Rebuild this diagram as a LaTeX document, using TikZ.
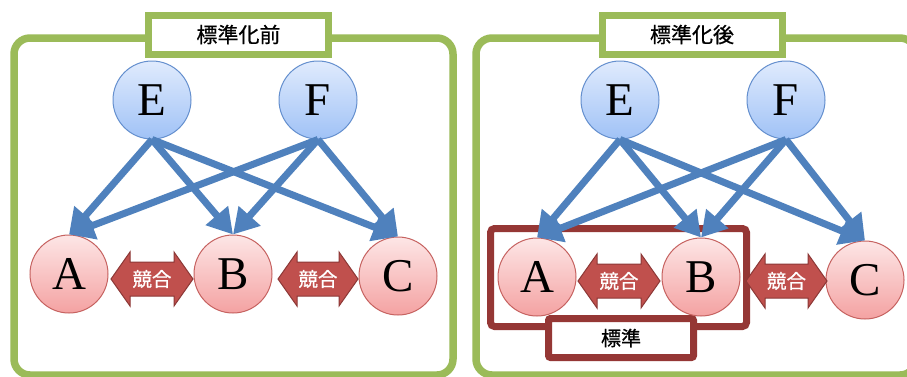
\documentclass[tikz,border=0pt]{standalone}
\usepackage{fontspec}
\setmainfont{Liberation Serif}
\newfontfamily\cjk{Noto Sans CJK JP}
\newfontfamily\cjkm[FakeBold=0.7]{Noto Sans CJK JP}
\usetikzlibrary{arrows.meta,calc}
\definecolor{grn}{RGB}{155,187,89}
\definecolor{arrblue}{RGB}{79,129,189}
\definecolor{kred}{RGB}{192,80,77}
\definecolor{kredd}{RGB}{140,56,54}
\definecolor{stdred}{RGB}{149,55,53}
\definecolor{btop}{RGB}{224,235,253}
\definecolor{bbot}{RGB}{160,194,246}
\definecolor{bdraw}{RGB}{100,143,206}
\definecolor{rtop}{RGB}{253,230,230}
\definecolor{rbot}{RGB}{244,162,162}
\definecolor{rdraw}{RGB}{198,98,96}
\newcommand\kyogo[4]{%
  \draw[kyo] (#2,#4) -- ({#2+19},{#4-27}) -- ({#2+19},{#4-17}) -- ({#3-19},{#4-17}) -- ({#3-19},{#4-27}) -- (#3,#4) -- ({#3-19},{#4+27}) -- ({#3-19},{#4+17}) -- ({#2+19},{#4+17}) -- ({#2+19},{#4+27}) -- cycle;
  \node[kyolabel] (#1) at ({(#2+#3)/2},#4) {競合};}
\begin{document}
\begin{tikzpicture}[x=1pt,y=-1pt,
  panel/.style={draw=grn,line width=7.5pt,rounded corners=16pt},
  titlebox/.style={draw=grn,fill=white,line width=7pt,minimum width=180pt,minimum height=39pt,inner sep=0pt,font=\cjkm\fontsize{21}{21}\selectfont},
  bnode/.style={circle,minimum size=78pt,inner sep=0pt,draw=bdraw,line width=1pt,top color=btop,bottom color=bbot,font=\fontsize{47}{47}\selectfont},
  rnode/.style={circle,minimum size=78pt,inner sep=0pt,draw=rdraw,line width=1pt,top color=rtop,bottom color=rbot,font=\fontsize{47}{47}\selectfont},
  link/.style={draw=arrblue,line width=7pt,-{Triangle[length=25pt,width=28pt]}},
  kyo/.style={fill=kred,draw=kredd,line width=1pt,line join=miter},
  kyolabel/.style={font=\cjkm\fontsize{19.5}{19.5}\selectfont,text=white,inner sep=0pt},
  stdbox/.style={draw=stdred,line width=7pt,rounded corners=4pt},
  stdlabel/.style={draw=stdred,fill=white,line width=7pt,minimum width=145pt,minimum height=39pt,inner sep=0pt,rounded corners=2pt,font=\cjkm\fontsize{20}{20}\selectfont}
  ]
\clip (0,0) rectangle (907,376);
\fill[white] (0,0) rectangle (907,376);
% panels
\draw[panel] (14,38) rectangle (453,375);
\draw[panel] (476,38) rectangle (916,375);
\node[titlebox] (t1) at (238.5,34.5) {標準化前};
\node[titlebox] (t2) at (692,34.5) {標準化後};
% standard box (right)
\draw[stdbox] (490.5,228.5) rectangle (746.5,326.5);
\node[stdlabel] (std) at (621,338) {標準};
% left nodes
\node[bnode] (E1) at (152,100) {E};
\node[bnode] (F1) at (318,100) {F};
\node[rnode] (A1) at (69,274) {A};
\node[rnode] (B1) at (233,274) {B};
\node[rnode] (C1) at (398,276) {C};
% right nodes
\node[bnode] (E2) at (620,100) {E};
\node[bnode] (F2) at (786,100) {F};
\node[rnode] (A2) at (537,277) {A};
\node[rnode] (B2) at (701,277) {B};
\node[rnode] (C2) at (865,280) {C};
% competition arrows
\kyogo{k1}{111}{193}{279}
\kyogo{k2}{278}{358}{279}
\kyogo{k3}{578}{660}{281}
\kyogo{k4}{746}{827}{281}
% links
\foreach \s in {E1,F1}{
  \foreach \t in {A1,B1,C1}{
    \draw[link] (\s.south) -- (\t.north);
  }}
\foreach \s in {E2,F2}{
  \foreach \t in {A2,B2,C2}{
    \draw[link] (\s.south) -- (\t.north);
  }}
\end{tikzpicture}
\end{document}
